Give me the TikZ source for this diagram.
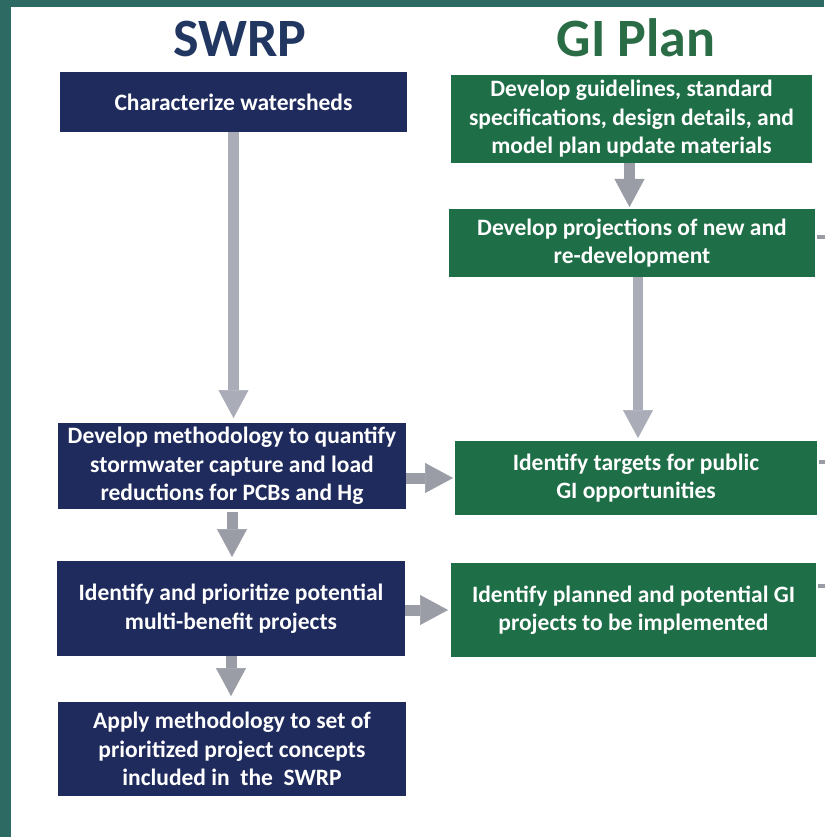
\documentclass[tikz,border=0pt]{standalone}
\usepackage{fontspec}
\setmainfont{Carlito}
\usetikzlibrary{arrows.meta}
\definecolor{frameteal}{HTML}{2E6A64}
\definecolor{navybox}{HTML}{1F2B5D}
\definecolor{greenbox}{HTML}{1E6E47}
\definecolor{navytitle}{HTML}{213762}
\definecolor{greentitle}{HTML}{2A6C45}
\definecolor{arrowlight}{HTML}{AAADB8}
\definecolor{arrowdark}{HTML}{9B9DA6}
\tikzset{
  box/.style={rectangle, inner sep=0pt, outer sep=0pt, text=white,
    font=\bfseries\fontsize{23.5}{28.5}\selectfont, align=center},
  navy/.style={box, fill=navybox},
  greenb/.style={box, fill=greenbox},
  title/.style={font=\bfseries\fontsize{54}{60}\selectfont, anchor=base, inner sep=0pt},
  blockarrow/.style={line width=11pt, draw=#1,
    -{Triangle[width=30pt,length=28pt,line width=0.5pt,fill=#1,color=#1]}},
  stub/.style={line width=4pt, draw=arrowdark}
}
\begin{document}
\begin{tikzpicture}[x=1pt,y=-1pt]
\fill[frameteal] (0,0) rectangle (824,837);
\fill[white] (11,7) rectangle (824,837);
\useasboundingbox (0,0) rectangle (824,837);

\node[title, text=navytitle] (t1) at (240,57) {SWRP};
\node[title, text=greentitle] (t2) at (636,57) {GI Plan};

\node[navy, minimum width=347pt, minimum height=60pt] (A) at (233.5,102) {Characterize watersheds};
\node[navy, minimum width=348pt, minimum height=86pt] (S2) at (232,466)
  {Develop methodology to quantify\\stormwater capture and load\\reductions for PCBs and Hg};
\node[navy, minimum width=348pt, minimum height=95pt] (S3) at (231,608.5)
  {Identify and prioritize potential\\multi-benefit projects};
\node[navy, minimum width=348pt, minimum height=94pt] (S4) at (232,749)
  {Apply methodology to set of\\prioritized project concepts\\included in\ \ the\ \ SWRP};

\node[greenb, minimum width=361pt, minimum height=88pt] (G1) at (631.5,119)
  {Develop guidelines, standard\\specifications, design details, and\\model plan update materials};
\node[greenb, minimum width=366pt, minimum height=68pt] (G2) at (632,243)
  {Develop projections of new and\\re-development};
\node[greenb, minimum width=362pt, minimum height=74pt] (G3) at (636,478)
  {Identify targets for public\\GI opportunities};
\node[greenb, minimum width=365pt, minimum height=94pt] (G4) at (633.5,610)
  {Identify planned and potential GI\\projects to be implemented};

% vertical arrows
\draw[blockarrow=arrowlight, shorten >=5pt] (A.south) -- (A.south |- S2.north);
\draw[blockarrow=arrowdark, shorten >=2pt] ([xshift=-2pt]G1.south) -- ([xshift=-2pt]G1.south |- G2.north);
\draw[blockarrow=arrowlight, line width=10pt, shorten >=3pt] ([xshift=6pt]G2.south) -- ([xshift=6pt]G2.south |- G3.north);
\draw[blockarrow=arrowdark, shorten <=3pt, shorten >=4pt] (S2.south) -- (S2.south |- S3.north);
\draw[blockarrow=arrowdark, shorten >=6pt] (S3.south) -- (S3.south |- S4.north);
% horizontal arrows
\draw[blockarrow=arrowdark, shorten >=2pt] (S2.east |- G3.west) -- (G3.west);
\draw[blockarrow=arrowdark, shorten >=3pt] (S3.east |- G4.west) -- (G4.west);

% connectors leaving the picture at the right edge
\coordinate (e1) at (826,237);
\coordinate (e2) at (826,462);
\coordinate (e3) at (826,586);
\draw[stub] ([xshift=2pt]G2.east |- e1) -- (e1);
\draw[stub] ([xshift=2pt]G3.east |- e2) -- (e2);
\draw[stub] ([xshift=2pt]G4.east |- e3) -- (e3);
\end{tikzpicture}
\end{document}
